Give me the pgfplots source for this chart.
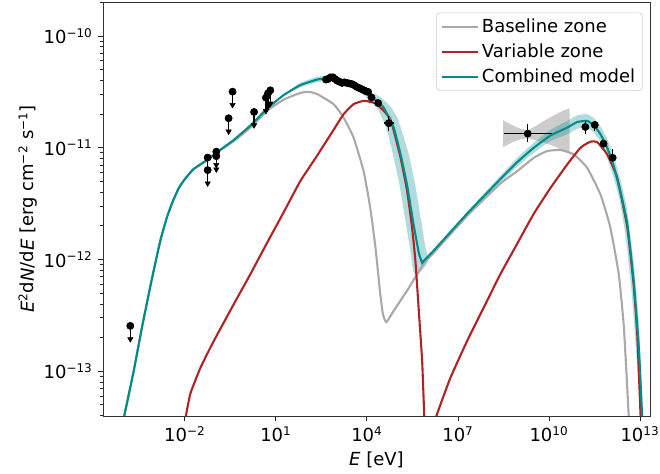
\documentclass[border=0pt]{standalone}
\usepackage{fontspec}
\setmainfont{DejaVu Sans}[ItalicFont={DejaVu Sans Oblique}]
\usepackage{pgfplots}
\pgfplotsset{compat=1.18}
\definecolor{mgray}{HTML}{A9A9A9}
\definecolor{mred}{HTML}{B22222}
\definecolor{mteal}{HTML}{008B8B}
\newcommand{\fs}{\fontsize{12}{14}\selectfont}
\begin{document}
\begin{tikzpicture}
\begin{axis}[
  scale only axis, width=364.7pt, height=276pt,
  xmode=log, ymode=log,
  xmin=1.995e-5, xmax=2.14e13, ymin=3.98e-14, ymax=2.014e-10,
  xtick={1e-2,1e1,1e4,1e7,1e10,1e13},
  xticklabels={{10\textsuperscript{−2}},{10\textsuperscript{1}},{10\textsuperscript{4}},{10\textsuperscript{7}},{10\textsuperscript{10}},{10\textsuperscript{13}}},
  xminorticks=false,
  ytick={1e-13,1e-12,1e-11,1e-10},
  yticklabels={{10\textsuperscript{−13}},{10\textsuperscript{−12}},{10\textsuperscript{−11}},{10\textsuperscript{−10}}},
  minor ytick={4e-14,5e-14,6e-14,7e-14,8e-14,9e-14,2e-13,3e-13,4e-13,5e-13,6e-13,7e-13,8e-13,9e-13,2e-12,3e-12,4e-12,5e-12,6e-12,7e-12,8e-12,9e-12,2e-11,3e-11,4e-11,5e-11,6e-11,7e-11,8e-11,9e-11,2e-10},
  tick align=outside, tick pos=left,
  major tick length=3.4pt, minor tick length=2pt,
  every tick/.style={black!85, line width=0.6pt},
  axis line style={black!80, line width=0.6pt},
  tick label style={font=\fs},
  xlabel={\textit{E} [eV]},
  ylabel={\textit{E}\textsuperscript{2}d\textit{N}/d\textit{E} [erg cm\textsuperscript{−2} s\textsuperscript{−1}]},
  every axis x label/.style={at={(axis description cs:0.5,0)}, yshift=-29pt, anchor=center, font=\fs},
  every axis y label/.style={at={(axis description cs:0,0.5)}, xshift=-50pt, rotate=90, anchor=center, font=\fs},
  legend style={at={(1,1)}, anchor=north east, xshift=-4.7pt, yshift=-7pt, draw=black!20, fill=white, fill opacity=0.8, text opacity=1, rounded corners=2.5pt, font=\fs, row sep=2pt, inner xsep=3pt, inner ysep=2pt},
  legend cell align=left,
  legend image code/.code={\draw[#1, line width=1.4pt] (0pt,0pt) -- (24pt,0pt);},
]
\coordinate (SW) at (rel axis cs:0,0);
\coordinate (NE) at (rel axis cs:1,1);

% Fermi bowtie
\addplot[fill=gray, fill opacity=0.4, draw=none, forget plot] coordinates {
(3.090e8,1.762e-11) (6.310e8,1.585e-11) (1.148e9,1.479e-11) (1.995e9,1.429e-11) (3.981e9,1.585e-11) (7.943e9,1.778e-11) (1.585e10,1.972e-11) (2.818e10,2.138e-11) (4.786e10,2.254e-11)
(4.786e10,8.913e-12) (2.818e10,9.550e-12) (1.585e10,1.023e-11) (7.943e9,1.096e-11) (3.981e9,1.161e-11) (1.995e9,1.216e-11) (1.148e9,1.189e-11) (6.310e8,1.122e-11) (3.090e8,1.012e-11)
};

% uncertainty bands of the combined model
\addplot[fill=mteal, fill opacity=0.3, draw=none, forget plot, smooth, tension=0.3] coordinates {
(17.78,2.951e-11) (63.10,3.802e-11) (229.1,4.315e-11) (489.8,4.416e-11) (1318,4.217e-11) (2818,3.981e-11) (6026,3.631e-11) (1.288e4,3.162e-11) (2.138e4,2.951e-11) (3.548e4,2.692e-11) (6.310e4,2.291e-11) (1.000e5,1.862e-11) (1.413e5,1.413e-11) (2.344e5,8.913e-12) (3.890e5,4.677e-12) (6.457e5,2.042e-12) (8.318e5,1.318e-12) (1.000e6,1.096e-12) (1.122e6,1.023e-12)
(8.913e5,8.913e-13) (6.310e5,7.943e-13) (4.467e5,7.244e-13) (3.548e5,7.586e-13) (3.020e5,9.120e-13) (2.754e5,1.148e-12) (1.950e5,2.042e-12) (1.175e5,4.677e-12) (7.079e4,8.913e-12) (4.266e4,1.514e-11) (2.239e4,2.239e-11) (1.288e4,2.630e-11) (6026,3.162e-11) (2818,3.467e-11) (1318,3.758e-11) (489.8,3.936e-11) (229.1,3.846e-11) (63.10,3.467e-11) (17.78,2.951e-11)
};
\addplot[fill=mteal, fill opacity=0.3, draw=none, forget plot, smooth, tension=0.3] coordinates {
(6.310e6,1.820e-12) (1.995e7,2.630e-12) (7.079e7,3.890e-12) (2.512e8,5.623e-12) (8.913e8,8.128e-12) (3.162e9,1.109e-11) (1.122e10,1.445e-11) (3.981e10,1.738e-11) (8.511e10,1.950e-11) (1.820e11,1.995e-11) (3.020e11,1.841e-11) (5.012e11,1.549e-11) (8.318e11,1.202e-11) (1.349e12,8.511e-12) (2.239e12,5.248e-12) (3.802e12,2.754e-12) (6.166e12,9.550e-13) (9.120e12,2.818e-13) (1.259e13,3.981e-14) (1.349e13,2.512e-14)
(1.072e13,2.512e-14) (1.023e13,3.981e-14) (7.586e12,1.413e-13) (5.248e12,5.248e-13) (3.311e12,1.660e-12) (2.089e12,3.467e-12) (1.259e12,5.754e-12) (7.943e11,8.318e-12) (5.012e11,1.122e-11) (3.020e11,1.365e-11) (1.820e11,1.514e-11) (8.511e10,1.479e-11) (3.981e10,1.318e-11) (1.122e10,1.148e-11) (3.162e9,9.016e-12) (8.913e8,6.761e-12) (2.512e8,4.898e-12) (7.079e7,3.467e-12) (1.995e7,2.512e-12) (6.310e6,1.820e-12)
};

% Baseline zone
\addplot[mgray, line width=1.4pt, smooth, tension=0.3] coordinates {
(8.913e-5,3.388e-14) (1.000e-4,3.981e-14) (2.042e-4,1.000e-13) (3.890e-4,2.512e-13) (7.244e-4,5.754e-13) (1.122e-3,1.000e-12) (1.585e-3,1.514e-12) (2.570e-3,2.399e-12) (3.981e-3,3.311e-12) (6.310e-3,4.365e-12) (1.000e-2,5.248e-12) (1.950e-2,6.457e-12) (5.370e-2,7.762e-12) (1.148e-1,9.120e-12)
(4.074e-1,1.148e-11) (1.445,1.514e-11) (5.129,2.138e-11) (17.78,2.692e-11) (63.10,3.090e-11) (120.2,3.162e-11) (229.1,3.020e-11) (794.3,2.455e-11) (1698,1.862e-11) (3631,1.230e-11) (7762,6.166e-12) (1.288e4,2.884e-12) (1.905e4,1.288e-12) (2.754e4,4.898e-13) (3.388e4,3.236e-13) (4.365e4,2.754e-13) (7.586e4,3.467e-13) (2.089e5,5.248e-13) (7.413e5,9.120e-13) (1.585e6,1.148e-12) (1.995e7,2.455e-12) (2.512e8,4.786e-12) (8.913e8,6.166e-12) (3.162e9,8.128e-12) (8.710e9,9.333e-12) (2.399e10,9.550e-12) (6.607e10,8.710e-12) (1.820e11,6.607e-12) (5.012e11,3.802e-12) (1.047e12,1.950e-12) (1.995e12,7.413e-13) (2.951e12,2.455e-13) (4.266e12,3.981e-14) (4.571e12,2.818e-14)
};
\addlegendentry{Baseline zone}

% Variable zone
\addplot[mred, line width=1.4pt, smooth, tension=0.3] coordinates {
(8.913e-3,3.162e-14) (1.023e-2,3.715e-14) (1.514e-2,6.310e-14) (3.236e-2,1.072e-13) (8.913e-2,1.862e-13) (4.074e-1,3.981e-13) (1.445,7.413e-13) (5.129,1.413e-12) (17.78,2.630e-12) (63.10,5.012e-12) (229.1,8.511e-12) (794.3,1.445e-11) (1698,1.995e-11) (3631,2.455e-11) (7762,2.630e-11) (1.288e4,2.570e-11) (2.138e4,2.455e-11) (5.888e4,1.799e-11) (1.259e5,8.318e-12) (2.089e5,4.169e-12) (3.090e5,1.905e-12) (3.981e5,9.550e-13) (5.129e5,3.467e-13) (6.607e5,1.230e-13) (7.762e5,3.890e-14) (8.318e5,2.512e-14)
};
\addlegendentry{Variable zone}
\addplot[mred, line width=1.4pt, smooth, tension=0.3, forget plot] coordinates {
(1.780e6,3.162e-14) (1.950e6,3.981e-14) (5.623e6,8.710e-14) (1.995e7,1.862e-13) (7.079e7,3.715e-13) (2.512e8,7.413e-13) (8.913e8,1.380e-12) (3.162e9,2.570e-12) (1.122e10,4.365e-12) (3.981e10,7.079e-12) (1.096e11,1.000e-11) (2.344e11,1.135e-11) (3.890e11,1.122e-11) (8.318e11,8.710e-12) (1.778e12,5.370e-12) (3.802e12,1.950e-12) (6.166e12,6.026e-13) (8.128e12,2.138e-13) (1.047e13,3.981e-14) (1.122e13,2.512e-14)
};

% Combined model
\addplot[mteal, line width=1.4pt, smooth, tension=0.3] coordinates {
(8.913e-5,3.388e-14) (1.000e-4,3.981e-14) (2.042e-4,1.000e-13) (3.890e-4,2.512e-13) (7.244e-4,5.754e-13) (1.122e-3,1.000e-12) (1.585e-3,1.514e-12) (2.570e-3,2.399e-12) (3.981e-3,3.311e-12) (6.310e-3,4.365e-12) (1.000e-2,5.248e-12) (1.950e-2,6.457e-12) (5.370e-2,7.762e-12) (1.148e-1,9.120e-12) (4.074e-1,1.175e-11) (1.445,1.585e-11) (5.129,2.239e-11) (17.78,2.951e-11) (63.10,3.631e-11) (229.1,4.074e-11) (489.8,4.169e-11) (1318,3.981e-11) (2818,3.715e-11) (6026,3.388e-11) (1.288e4,2.884e-11) (2.138e4,2.630e-11) (3.548e4,2.291e-11) (7.586e4,1.514e-11) (1.259e5,8.913e-12) (2.089e5,4.677e-12) (3.467e5,2.042e-12) (5.129e5,1.148e-12) (6.026e5,1.000e-12) (6.607e5,9.333e-13) (7.586e5,9.772e-13) (1.585e6,1.202e-12) (1.995e7,2.570e-12) (2.512e8,5.248e-12) (8.913e8,7.413e-12) (3.162e9,1.000e-11) (1.122e10,1.288e-11) (3.981e10,1.514e-11) (8.511e10,1.698e-11) (1.820e11,1.738e-11) (3.020e11,1.585e-11) (5.012e11,1.318e-11) (8.318e11,1.000e-11) (1.349e12,6.918e-12) (2.239e12,4.074e-12) (3.802e12,2.089e-12) (6.166e12,6.457e-13) (9.120e12,1.660e-13) (1.175e13,3.981e-14) (1.259e13,2.818e-14)
};
\addlegendentry{Combined model}

% upper limits
\addplot[only marks, mark=*, mark size=2.4pt, black, forget plot,
  error bars/.cd, y dir=minus, y explicit relative, error mark=triangle*,
  error mark options={rotate=270, mark size=2pt, black, fill=black},
  error bar style={line width=0.9pt, black}]
coordinates {
(1.585e-4,2.547e-13) -= (0,0.25)
(5.623e-2,8.166e-12) -= (0,0.25)
(5.623e-2,6.310e-12) -= (0,0.25)
(1.084e-1,9.226e-12) -= (0,0.25)
(1.084e-1,8.414e-12) -= (0,0.25)
(2.754e-1,1.837e-11) -= (0,0.25)
(3.715e-1,3.177e-11) -= (0,0.25)
(1.905,2.089e-11) -= (0,0.25)
(4.677,2.805e-11) -= (0,0.25)
(5.495,3.069e-11) -= (0,0.25)
(6.531,3.266e-11) -= (0,0.25)
};

% optical / UV / X-ray points
\addplot[only marks, mark=*, mark size=2.4pt, black, forget plot] coordinates {
(446.7,4.074e-11) (524.8,4.121e-11) (631.0,4.266e-11) (758.6,4.266e-11) (891.3,4.121e-11) (1047,3.981e-11) (1259,3.890e-11) (1514,3.802e-11) (1820,3.846e-11) (2188,3.802e-11) (2630,3.758e-11) (3162,3.715e-11) (3802,3.631e-11) (4571,3.508e-11) (5495,3.428e-11) (6607,3.350e-11) (7943,3.273e-11) (9333,3.199e-11) (1.096e4,3.162e-11) (1.413e4,2.818e-11) (2.344e4,2.512e-11)
};

% points with error bars
\addplot[only marks, mark=*, mark size=2.4pt, black, forget plot,
  error bars/.cd, x dir=both, y dir=both, x explicit, y explicit, error mark=none,
  error bar style={line width=0.9pt, black}]
coordinates {
(5.248e4,1.660e-11) += (2.51e4,0.28e-11) -= (1.70e4,0.24e-11)
(1.995e9,1.337e-11) += (1.060e10,0.285e-11) -= (1.671e9,0.202e-11)
(1.585e11,1.535e-11) += (0.41e11,0.203e-11) -= (0.326e11,0.217e-11)
(3.236e11,1.600e-11) += (0.57e11,0.138e-11) -= (0.48e11,0.187e-11)
(6.310e11,1.089e-11) += (0.5e11,0.08e-11) -= (0.5e11,0.08e-11)
(1.259e12,8.128e-12) += (0.5e11,1.58e-12) -= (0.5e11,0.51e-12)
};
\end{axis}
\pgfresetboundingbox
\path ([xshift=-68.67pt,yshift=-38.67pt]SW) rectangle ([xshift=6.67pt,yshift=1.33pt]NE);
\end{tikzpicture}
\end{document}
